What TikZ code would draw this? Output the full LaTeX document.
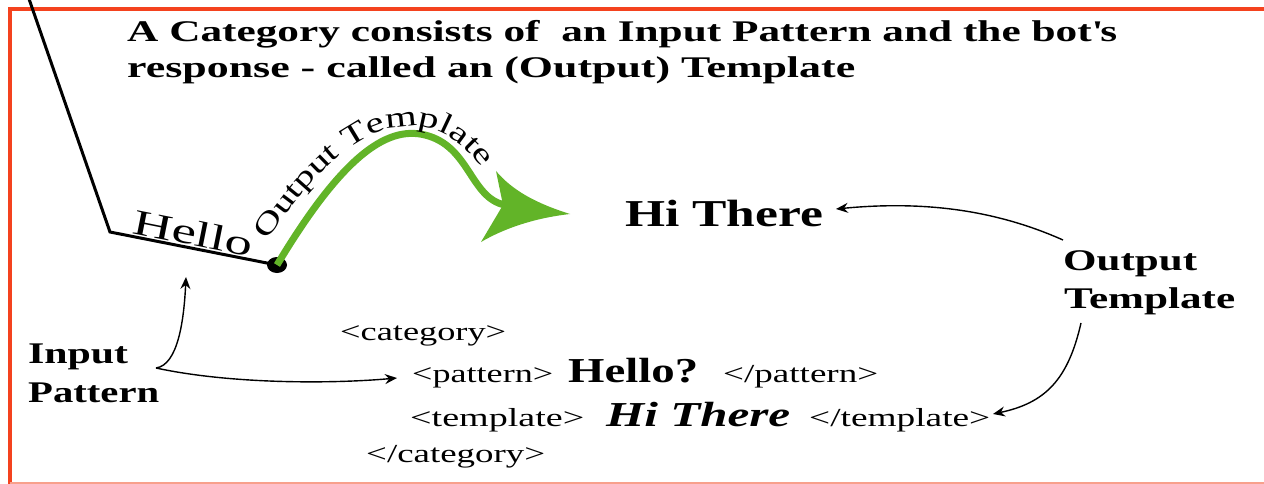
\documentclass[tikz,border=0pt]{standalone}
\usepackage{fontspec}
\setmainfont{Liberation Serif}[FakeStretch=1.4]
\usepackage{graphicx}
\usetikzlibrary{arrows.meta,decorations.text,shapes.geometric}
\newdimen\fitnat
\newdimen\fittgt
\newcommand\fitw[2]{\settowidth\fitnat{#2}\setlength\fittgt{#1}\scalebox{\fpeval{\fittgt/\fitnat}}[1]{#2}}
\definecolor{framered}{RGB}{244,66,30}
\definecolor{framelight}{RGB}{248,160,140}
\definecolor{arrowgreen}{RGB}{98,180,40}
\tikzset{
  lbl/.style={inner sep=0pt, anchor=base west},
  conn/.style={line width=1.4pt, -{Stealth[length=12pt,width=10pt,inset=4pt]}},
  frame/.style={draw=framered, line width=4pt},
}
\begin{document}
\begin{tikzpicture}[x=1pt,y=-1pt]
\useasboundingbox (0,0) rectangle (1264,484);
\fill[white] (0,0) rectangle (1264,484);
% frame
\draw[frame] (1266,9) -- (10,9) -- (10,486);
\draw[framelight, line width=2pt] (10,482.5) -- (1266,482.5);

% title
\node[lbl, font=\fontsize{30}{36}\selectfont\bfseries] (t1) at (127,42)
  {\fitw{990pt}{A Category consists of\ \ an Input Pattern and the bot\textquotesingle s}};
\node[lbl, font=\fontsize{30}{36}\selectfont\bfseries] (t2) at (127,78)
  {\fitw{728pt}{response - called an (Output) Template}};

% black line and dot
\node[ellipse, fill=black, minimum width=20pt, minimum height=16pt, inner sep=0pt] (dot) at (277,265) {};
\draw[line width=3pt, line join=miter] (28,-4) -- (110,232) -- (dot.center);
\node[lbl, rotate=-11.3, font=\fontsize{36}{40}\selectfont] (hello) at (131,233) {\fitw{122pt}{Hello}};

% green curve
\draw[arrowgreen, line width=7pt] (dot.center) .. controls (340,160) and (385,125) .. (425,135)
   .. controls (470,146) and (470,198) .. (505,205);
\fill[arrowgreen] (570,214) .. controls (535,203) and (512,190) .. (496,171) -- (503,205) -- (481,242)
   .. controls (505,228) and (535,218) .. (570,214) -- cycle;
% label along the curve (its own baseline path, just above the green curve)
\coordinate (otStart) at (268,241);
\path[decorate, decoration={text along path,
   text={|\fontsize{29}{29}\selectfont|Output Template}}]
   (otStart) .. controls (320,160) and (372,119) .. (423,127)
   .. controls (457,132) and (478,160) .. (500,196);

% Hi There
\node[lbl, font=\fontsize{38}{40}\selectfont\bfseries] (hi) at (625,226) {\fitw{198pt}{Hi There}};

% labels
\node[lbl, font=\fontsize{30}{36}\selectfont\bfseries] (ot1) at (1063,270) {\fitw{134pt}{Output}};
\node[lbl, font=\fontsize{30}{36}\selectfont\bfseries] (ot2) at (1064,308) {\fitw{171pt}{Template}};
\node[lbl, font=\fontsize{30}{36}\selectfont\bfseries] (ip1) at (28,363) {\fitw{100pt}{Input}};
\node[lbl, font=\fontsize{30}{36}\selectfont\bfseries] (ip2) at (28,402) {\fitw{131pt}{Pattern}};

% code
\node[lbl, font=\fontsize{26}{30}\selectfont] (cat) at (340,340) {\fitw{166pt}{<category>}};
\node[lbl, font=\fontsize{26}{30}\selectfont] (pat) at (412,382) {\fitw{141pt}{<pattern>}};
\node[lbl, font=\fontsize{35}{38}\selectfont\bfseries] (hq) at (568,382) {\fitw{130pt}{Hello?}};
\node[lbl, font=\fontsize{26}{30}\selectfont] (epat) at (723,382) {\fitw{155pt}{</pattern>}};
\node[lbl, font=\fontsize{26}{30}\selectfont] (tmp) at (410,426) {\fitw{174pt}{<template>}};
\node[lbl, font=\fontsize{35}{38}\selectfont\bfseries\itshape] (hi2) at (606,426) {\fitw{184pt}{Hi There}};
\node[lbl, font=\fontsize{26}{30}\selectfont] (etmp) at (809,426) {\fitw{181pt}{</template>}};
\node[lbl, font=\fontsize{26}{30}\selectfont] (ecat) at (366,462) {\fitw{179pt}{</category>}};

% connectors
\coordinate (ipA) at (156,368);
\coordinate (helloTip) at (186,277);
\coordinate (patTip) at (397,378);
\coordinate (otA) at (1063,240);
\coordinate (hiTip) at (836,209);
\coordinate (otB) at (1081,323);
\coordinate (tmplTip) at (993,414);
\draw[conn] (ipA) .. controls (178,365) and (184,320) .. (helloTip);
\draw[conn] (ipA) .. controls (230,384) and (330,384) .. (patTip);
\draw[conn] (otA) .. controls (1000,212) and (930,200) .. (hiTip);
\draw[conn] (otB) .. controls (1068,380) and (1045,403) .. (tmplTip);
\end{tikzpicture}
\end{document}
